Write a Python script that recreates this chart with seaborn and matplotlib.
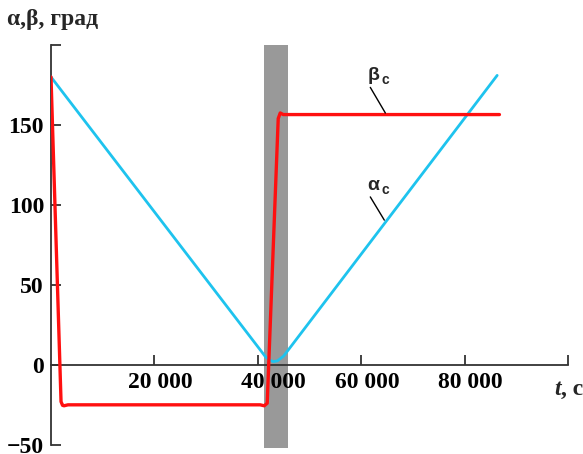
import numpy as np
import pandas as pd
import matplotlib
matplotlib.use("Agg")
import matplotlib.pyplot as plt
import matplotlib.transforms as mtransforms
import seaborn as sns

sns.set_theme(style="ticks")
plt.rcParams['font.family'] = ['Liberation Serif', 'DejaVu Serif']
plt.rcParams['font.weight'] = 'bold'

# данные
t_alpha = [0, 41500, 42300, 43000, 43800, 45000, 86300]
alpha = [180, 5, 3, 2, 2.5, 5.5, 181]

t_beta = [0, 1940, 2230, 2520, 3290, 40460, 41240, 41820, 43950, 44340, 44920, 86740]
beta = [180, -23, -25.3, -25.6, -25, -25, -25.6, -24, 154, 157.5, 156.5, 156.5]

band = (41240, 45890)  # серая полоса

x_ticks = [20000, 40000, 60000, 80000, 100000]
x_labels = ["20 000", "40 000", "60 000", "80 000", ""]
y_ticks = [-50, 0, 50, 100, 150, 200]
y_labels = ["\u221250", "0", "50", "100", "150", ""]

df_a = pd.DataFrame({"t": t_alpha, "v": alpha})
df_b = pd.DataFrame({"t": t_beta, "v": beta})

W, H = 583, 454
fig = plt.figure(figsize=(W / 100, H / 100), dpi=100)
ax = fig.add_axes([51 / W, (H - 448) / H, (568 - 51) / W, (448 - 45) / H])
ax.set_axisbelow(False)

ax.axvspan(band[0], band[1], color="#999999", lw=0, zorder=1)
sns.lineplot(data=df_a, x="t", y="v", sort=False, estimator=None, ax=ax,
             color="#1ec3ee", lw=2.0, zorder=3)
sns.lineplot(data=df_b, x="t", y="v", sort=False, estimator=None, ax=ax,
             color="#ff1010", lw=2.4, zorder=4)

ax.set_xlim(0, 100000)
ax.set_ylim(-52, 200)
ax.set_xlabel("")
ax.set_ylabel("")

for s in ["top", "right"]:
    ax.spines[s].set_visible(False)
ax.spines["bottom"].set_position(("data", 0))
ax.spines["left"].set_bounds(-50, 200)
for s in ["bottom", "left"]:
    ax.spines[s].set_color("#333333")
    ax.spines[s].set_linewidth(1.3)

ax.set_xticks(x_ticks)
ax.set_xticklabels(x_labels)
ax.set_yticks(y_ticks)
ax.set_yticklabels(y_labels)
ax.tick_params(axis="both", direction="in", length=7, width=1.3, color="#333333",
               labelsize=17, labelcolor="black")
ax.tick_params(axis="x", pad=5)
ax.tick_params(axis="y", pad=5)

# подписи делений в оригинале сдвинуты вправо
for lbl, dx in zip(ax.get_xticklabels(), [6, 16, 6, 6, 0]):
    lbl.set_transform(lbl.get_transform() +
                      mtransforms.ScaledTranslation(dx / 100, 0, fig.dpi_scale_trans))

# подпись оси t
ax.annotate("t", xy=(100000, 0), xytext=(-5, -10), textcoords="offset points",
            fontsize=17, fontweight="bold", style="italic", ha="right", va="top")
ax.annotate(", c", xy=(100000, 0), xytext=(-5, -10), textcoords="offset points",
            fontsize=17, fontweight="bold", ha="left", va="top")

# заголовок оси
fig.text(7 / W, 1 - 19 / H, "\u03b1,\u03b2, град", fontsize=17, fontweight="bold",
         ha="left", va="center")

# подписи кривых
sans = ["Liberation Sans", "DejaVu Sans"]
for name, pos, lead in [("\u03b2", (62300, 181), [(61760, 173.5), (64670, 157.5)]),
                        ("\u03b1", (62300, 112), [(61760, 105), (64470, 90.5)])]:
    ax.text(pos[0], pos[1], name, fontsize=14, fontweight="bold", ha="center",
            va="center", fontfamily=sans, zorder=5)
    ax.annotate("\u0441", xy=pos, xytext=(6, -3), textcoords="offset points",
                fontsize=10, fontweight="bold", ha="left", va="center",
                fontfamily=sans, zorder=5)
    ax.plot([lead[0][0], lead[1][0]], [lead[0][1], lead[1][1]], color="black", lw=1.0, zorder=5)

fig.savefig("out.png", dpi=100)
